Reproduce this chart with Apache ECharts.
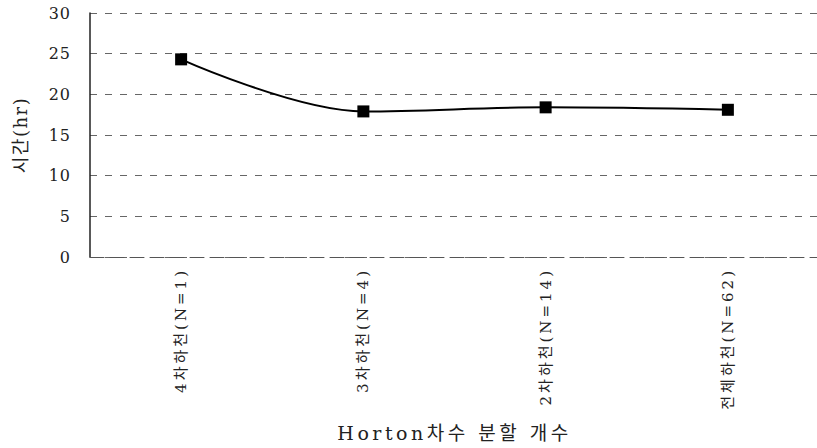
<!DOCTYPE html>
<html><head><meta charset="utf-8">
<script src="https://cdn.jsdelivr.net/npm/echarts@6/dist/echarts.min.js"></script>
<style>html,body{margin:0;padding:0;background:#fff}#c{width:817px;height:448px}</style>
</head><body><div id="c"></div>
<script>
var categories = ['4차하천(N=1)', '3차하천(N=4)', '2차하천(N=14)', '전체하천(N=62)'];
var hours = [24.3, 17.9, 18.4, 18.1];
var yTicks = [0, 5, 10, 15, 20, 25, 30];
var xTitle = 'Horton차수 분할 개수';
var yTitle = '시간(hr)';

var FONT = "'DejaVu Serif', 'Noto Sans CJK KR', serif";
var chart = echarts.init(document.getElementById('c'), null, {renderer: 'svg'});
chart.setOption({
  animation: false,
  grid: {left: 90, right: -2, top: 13, bottom: 191, outerBoundsMode: 'none', containLabel: false},
  xAxis: {
    type: 'category', data: categories, boundaryGap: true,
    name: xTitle, nameLocation: 'middle', nameGap: 166,
    nameTextStyle: {fontFamily: FONT, fontSize: 19, color: '#222'},
    axisLine: {show: true, lineStyle: {color: '#555', type: [14, 6], width: 1}},
    axisTick: {show: false},
    axisLabel: {rotate: 90, margin: 11, fontFamily: FONT, fontSize: 15, color: '#222'}
  },
  yAxis: {
    type: 'value', min: yTicks[0], max: yTicks[yTicks.length - 1], interval: 5,
    name: yTitle, nameLocation: 'middle', nameGap: 61, nameRotate: 90,
    nameTextStyle: {fontFamily: FONT, fontSize: 18, color: '#222'},
    axisLine: {show: true, lineStyle: {color: '#222', width: 1.5}},
    axisTick: {show: false},
    axisLabel: {margin: 19, fontFamily: FONT, fontSize: 16, color: '#222'},
    splitLine: {show: true, lineStyle: {color: '#666', type: [7, 8], width: 1}}
  },
  series: [{
    type: 'line', data: hours, smooth: 0.35,
    symbol: 'rect', symbolSize: 12,
    lineStyle: {color: '#000', width: 2},
    itemStyle: {color: '#000'}
  }]
});
// widen letter spacing to mimic the original document typeface
function spaceText() {
  var texts = document.querySelectorAll('#c text');
  texts.forEach(function (t) {
    var s = t.textContent;
    var ls = null;
    if (categories.indexOf(s) >= 0) ls = '3px';
    else if (s === xTitle) ls = '3.5px';
    else if (s === yTitle) ls = '1.5px';
    else if (yTicks.map(String).indexOf(s) >= 0) ls = '1px';
    if (ls) t.style.letterSpacing = ls;
  });
}
spaceText();
chart.on('finished', spaceText);
</script></body></html>
